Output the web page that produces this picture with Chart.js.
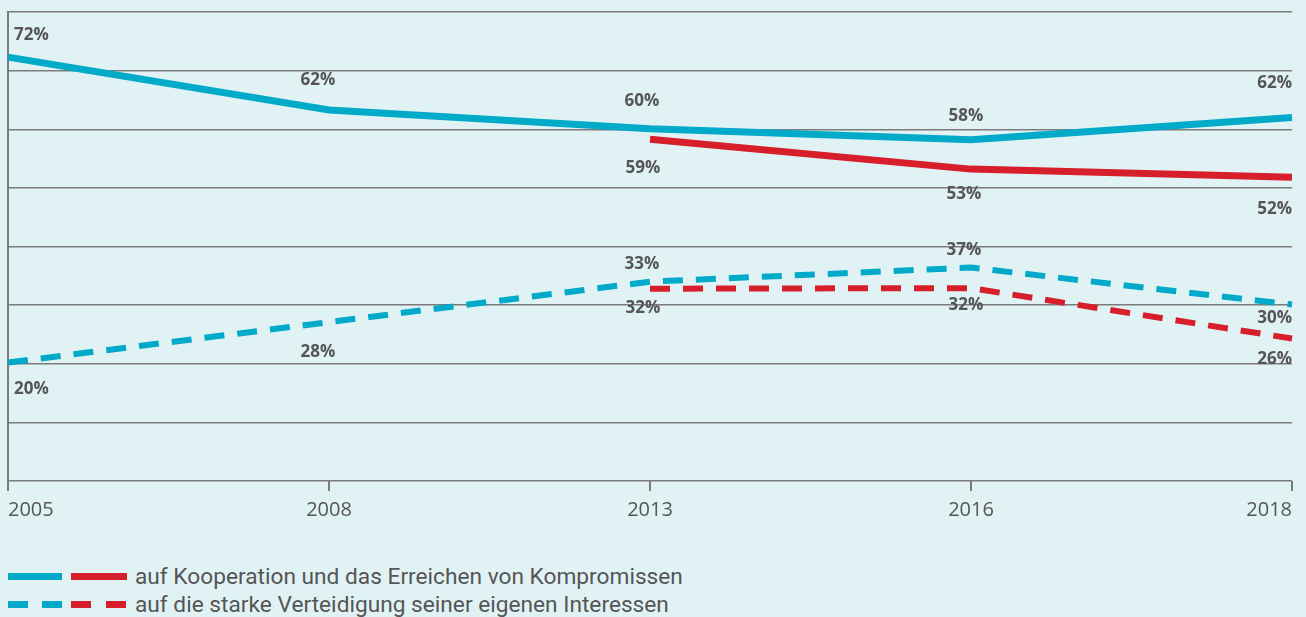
<!DOCTYPE html>
<html>
<head>
<meta charset="utf-8">
<script src="https://cdn.jsdelivr.net/npm/chart.js@4"></script>
<style>
    body { margin: 0; background: #e1f2f5; }
    .wrap { position: relative; width: 1306px; height: 617px; }
    .plot { position: absolute; left: 0; top: 0; width: 1306px; height: 530px; }
    .legend { position: absolute; left: 8px; top: 562px; font-family: Roboto, sans-serif; font-size: 22.7px; color: #555; }
    .row { display: flex; align-items: center; height: 28px; }
    .sw { width: 54px; height: 7px; margin-right: 9px; }
    .sw.red { width: 56px; }
    .row span.txt { margin-left: -1px; }
    .dash-c { background: repeating-linear-gradient(90deg, #00aac8 0 20px, transparent 20px 34px); }
    .dash-r { background: repeating-linear-gradient(90deg, #d71f2b 0 20px, transparent 20px 35px); }
</style>
</head>
<body>
<div class="wrap">
    <div class="plot"><canvas id="trendChart" width="1306" height="530"></canvas></div>
    <div class="legend">
        <div class="row"><div class="sw" style="background:#00aac8"></div><div class="sw red" style="background:#d71f2b"></div><span class="txt">auf Kooperation und das Erreichen von Kompromissen</span></div>
        <div class="row"><div class="sw dash-c"></div><div class="sw red dash-r"></div><span class="txt">auf die starke Verteidigung seiner eigenen Interessen</span></div>
    </div>
</div>
<script>
// Categories
const years = ['2005', '2008', '2013', '2016', '2018'];

// Series values (line positions)
const koopWest = [72.3, 63.3, 60.1, 58.2, 62.0];
const koopOst = [null, null, 58.3, 53.2, 51.8];
const interWest = [20.2, 27.1, 34.0, 36.4, 30.1];
const interOst = [null, null, 32.8, 32.9, 24.3];

// Printed value labels
const koopWestLabels = ['72%', '62%', '60%', '58%', '62%'];
const koopOstLabels = [null, null, '59%', '53%', '52%'];
const interWestLabels = ['20%', '28%', '33%', '37%', '30%'];
const interOstLabels = [null, null, '32%', '32%', '26%'];

// Y axis ticks
const yTicks = [0, 10, 20, 30, 40, 50, 60, 70, 80];

const CYAN = '#00aac8';
const RED = '#d71f2b';
const GRID = '#7b7b7b';
const TEXT = '#555555';

// label placement (pixel offsets from the point)
const labelOffsets = [
    [[6, -22], [-11, -30], [-8, -28], [-5, -24], [0, -34]],
    [null, null, [-7, 29], [-7, 25], [0, 32]],
    [[6, 27], [-11, 30], [-8, -18], [-7, -17], [0, 14]],
    [null, null, [-7, 19], [-5, 17], [0, 21]]
];
const labelSets = [koopWestLabels, koopOstLabels, interWestLabels, interOstLabels];

const valueLabels = {
    id: 'valueLabels',
    afterDatasetsDraw(chart) {
        const ctx = chart.ctx;
        ctx.save();
        ctx.font = 'bold 17px "Open Sans", sans-serif';
        ctx.fillStyle = TEXT;
        ctx.textBaseline = 'middle';
        chart.data.datasets.forEach((ds, i) => {
            const meta = chart.getDatasetMeta(i);
            meta.data.forEach((pt, j) => {
                const txt = labelSets[i][j];
                const off = labelOffsets[i][j];
                if (!txt || !off) return;
                let align = 'center';
                if (j === 0) align = 'left';
                if (j === years.length - 1) align = 'right';
                ctx.textAlign = align;
                const x = align === 'right' ? chart.chartArea.right : pt.x + off[0];
                ctx.fillText(txt, x, pt.y + off[1]);
            });
        });
        ctx.restore();
    }
};

function lineSet(data, color, dashed) {
    return {
        data: data,
        borderColor: color,
        backgroundColor: color,
        borderWidth: dashed ? 6 : 7,
        borderDash: dashed ? [20, 13] : [],
        borderCapStyle: 'butt',
        pointRadius: 0,
        tension: 0,
        fill: false,
        spanGaps: false
    };
}

new Chart(document.getElementById('trendChart'), {
    type: 'line',
    data: {
        labels: years,
        datasets: [
            lineSet(koopWest, CYAN, false),
            lineSet(koopOst, RED, false),
            lineSet(interWest, CYAN, true),
            lineSet(interOst, RED, true)
        ]
    },
    options: {
        responsive: false,
        animation: false,
        layout: { padding: { left: 8, right: 14, top: 12, bottom: 1 } },
        plugins: { legend: { display: false }, tooltip: { enabled: false } },
        scales: {
            x: {
                offset: false,
                grid: { drawOnChartArea: false, drawTicks: true, tickLength: 10, color: GRID, lineWidth: 2 },
                border: { display: false },
                ticks: { color: TEXT, font: { family: '"Open Sans", sans-serif', size: 20 }, align: 'inner', padding: 7, maxRotation: 0 }
            },
            y: {
                min: 0,
                max: 80,
                afterBuildTicks: axis => { axis.ticks = yTicks.map(v => ({ value: v })); },
                grid: { color: GRID, lineWidth: 1.5, drawTicks: false },
                border: { color: GRID, width: 2 },
                ticks: { display: false }
            }
        }
    },
    plugins: [valueLabels]
});
</script>
</body>
</html>
